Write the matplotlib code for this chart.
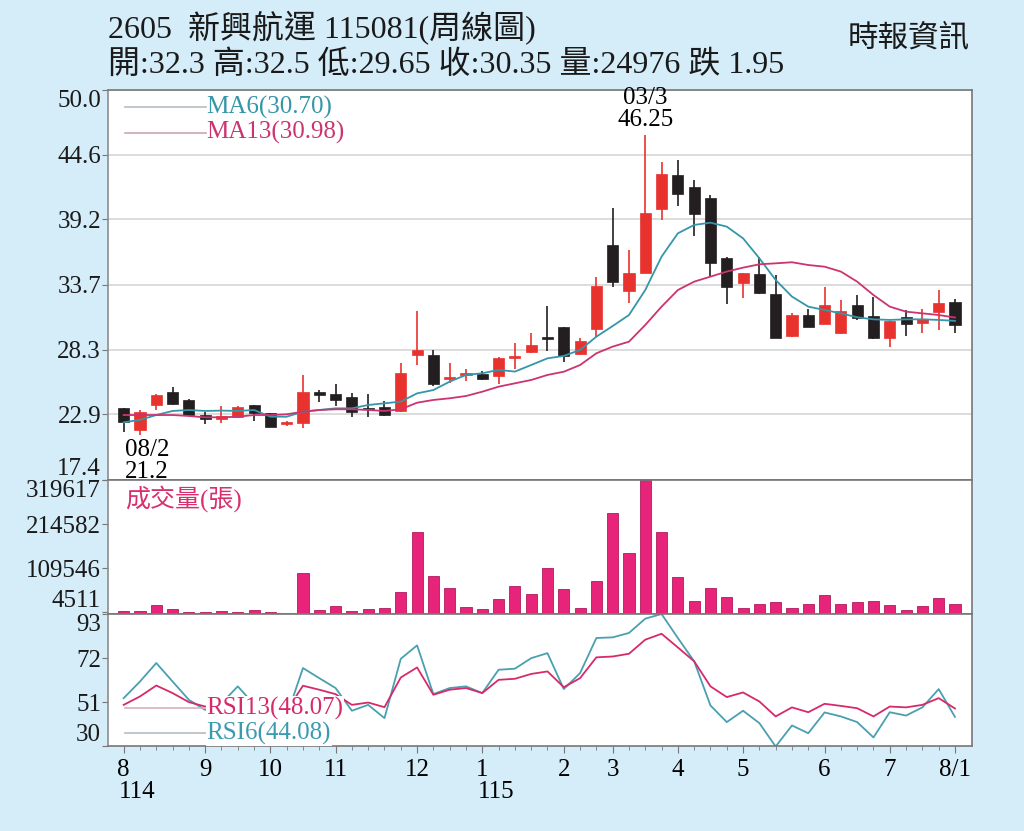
import numpy as np
import matplotlib.pyplot as plt

# weekly candles, 52 weeks
opens = [23.44, 21.58, 23.67, 24.78, 24.09, 22.83, 22.47, 22.69, 23.67, 22.97,
         22.08, 22.19, 24.73, 24.59, 24.36, 23.38, 23.53, 23.14, 27.85, 27.85,
         25.84, 26.17, 26.26, 26.09, 27.57, 28.13, 29.30, 30.16, 27.91, 30.00,
         37.04, 33.22, 34.68, 40.03, 42.90, 41.92, 41.00, 35.93, 33.84, 34.62,
         32.95, 29.44, 31.19, 30.44, 29.66, 32.03, 31.13, 29.24, 31.05, 30.50,
         31.42, 32.30]
highs = [23.44, 23.25, 24.55, 25.20, 24.17, 23.06, 23.59, 23.59, 23.67, 23.00,
         22.30, 26.18, 24.92, 25.40, 24.65, 24.56, 24.03, 27.15, 31.53, 28.27,
         27.15, 26.65, 26.53, 27.71, 28.83, 29.66, 31.95, 30.16, 29.24, 34.34,
         40.16, 36.63, 46.25, 44.00, 44.15, 42.48, 41.22, 36.07, 34.73, 36.02,
         34.54, 31.38, 31.67, 33.56, 32.45, 32.86, 32.67, 30.72, 31.61, 31.67,
         33.28, 32.50]
lows = [21.44, 21.20, 23.25, 23.70, 22.80, 22.08, 22.14, 22.58, 22.33, 21.80,
        21.95, 21.77, 23.95, 23.61, 22.69, 22.64, 22.75, 23.06, 27.01, 25.26,
        25.48, 25.68, 25.76, 25.42, 26.65, 28.04, 28.21, 27.29, 27.85, 29.38,
        33.51, 32.22, 34.68, 39.13, 40.30, 37.80, 34.45, 32.11, 32.59, 32.95,
        29.24, 29.38, 30.16, 30.44, 29.60, 30.77, 29.16, 28.54, 29.44, 29.66,
        29.94, 29.65]
closes = [22.22, 23.08, 24.51, 23.75, 22.83, 22.47, 22.75, 23.48, 23.03, 21.80,
          22.28, 24.78, 24.50, 24.09, 23.06, 23.30, 22.83, 26.37, 28.27, 25.42,
          26.03, 26.31, 25.82, 27.62, 27.76, 28.66, 29.20, 27.77, 29.04, 33.64,
          33.98, 34.73, 39.74, 42.98, 41.31, 39.61, 35.56, 33.51, 34.68, 33.01,
          29.24, 31.19, 30.16, 32.03, 31.53, 30.92, 29.24, 30.69, 30.41, 30.88,
          32.22, 30.35]

ma6 = [22.22, 22.42, 22.83, 23.17, 23.25, 23.17, 23.20, 23.17, 23.25, 22.69,
       22.69, 23.11, 23.25, 23.39, 23.39, 23.67, 23.81, 23.95, 24.64, 24.92,
       25.62, 26.18, 26.32, 26.60, 26.46, 27.01, 27.57, 27.77, 28.27, 29.38,
       30.27, 31.19, 33.28, 36.07, 38.02, 38.72, 38.91, 38.58, 37.60, 35.93,
       34.12, 32.73, 31.89, 31.61, 31.33, 31.00, 30.83, 30.78, 30.83, 30.83,
       30.78, 30.70]
ma13 = [22.83, 22.83, 22.83, 22.83, 22.75, 22.64, 22.64, 22.69, 22.83, 22.83,
        22.89, 23.11, 23.25, 23.31, 23.31, 23.25, 23.17, 23.31, 23.86, 24.09,
        24.23, 24.42, 24.78, 25.20, 25.48, 25.76, 26.18, 26.45, 27.01, 27.99,
        28.55, 28.96, 30.36, 31.89, 33.28, 33.98, 34.40, 34.82, 35.15, 35.43,
        35.51, 35.60, 35.37, 35.23, 34.82, 33.98, 32.86, 31.89, 31.47, 31.33,
        31.19, 30.98]

volume = [6400, 6400, 20800, 12000, 5600, 4511, 8000, 5200, 9600, 5600,
          0, 98500, 8800, 19200, 7200, 11200, 15200, 52900, 196200, 91300,
          62500, 16800, 12000, 36000, 65700, 48900, 110500, 59300, 15200, 77700,
          240300, 145000, 319617, 196200, 88900, 30400, 61700, 40000, 13600, 24800,
          28000, 15200, 23200, 45700, 24800, 28000, 31200, 20800, 10400, 18400,
          38400, 24976]

rsi6 = [53.0, 60.9, 69.7, 60.9, 52.2, 47.4, 50.5, 58.6, 50.0, 43.0,
        44.5, 67.3, 62.5, 57.8, 47.0, 49.8, 43.5, 71.7, 78.1, 54.9,
        57.8, 58.6, 55.4, 66.5, 67.0, 72.0, 74.4, 57.3, 64.9, 81.6,
        81.9, 84.0, 90.8, 93.0, 81.6, 70.5, 49.5, 41.6, 47.0, 41.1,
        30.0, 40.0, 36.3, 46.2, 44.3, 41.6, 34.3, 46.3, 44.7, 48.6,
        57.3, 44.08]
rsi13 = [49.8, 53.8, 59.0, 55.4, 51.1, 49.0, 49.5, 52.5, 50.0, 46.5,
         47.0, 58.9, 57.0, 54.9, 49.8, 50.9, 48.7, 62.8, 67.6, 54.6,
         57.0, 57.8, 55.4, 61.7, 62.2, 64.5, 65.7, 58.2, 62.5, 72.4,
         72.8, 74.1, 80.8, 83.6, 77.1, 70.5, 58.6, 53.5, 55.7, 51.4,
         44.3, 48.6, 46.3, 50.3, 49.3, 48.2, 44.3, 49.0, 48.6, 49.8,
         53.0, 48.07]

price_ticks = [17.4, 22.9, 28.3, 33.7, 39.2, 44.6, 50.0]
vol_ticks = [4511, 109546, 214582, 319617]
rsi_ticks = [30, 51, 72, 93]
month_pos = [0, 5, 9, 13, 18, 22, 27, 30, 34, 38, 43, 47, 51]
month_labels = ['8', '9', '10', '11', '12', '1', '2', '3', '4', '5', '6', '7', '8/1']
year_labels = {0: '114', 22: '115'}

RED = '#e8322d'
BLACK = '#231f20'
TEAL = '#3596aa'
CRIMSON = '#cc3470'
PINK = '#e8247a'
BG = '#d5ecf9'

plt.rcParams['font.family'] = ['Liberation Serif', 'Noto Sans CJK TC']


def style_axis(ax):
    for side in ['left', 'right', 'top', 'bottom']:
        ax.spines[side].set_color('#777777')
        ax.spines[side].set_linewidth(1.2)
    ax.spines['left'].set_color('#8c8c8c')
    ax.tick_params(axis='y', direction='out', length=4, color='#777777',
                   labelsize=18, labelcolor='#1a1a1a', pad=1)
    ax.tick_params(axis='x', bottom=False, labelbottom=False)


def main():
    fig = plt.figure(figsize=(10.24, 8.31), dpi=100, facecolor=BG)
    ax1 = fig.add_axes([0.1055, 0.4224, 0.8438, 0.4693])
    ax2 = fig.add_axes([0.1055, 0.2611, 0.8438, 0.1613])
    ax3 = fig.add_axes([0.1055, 0.1017, 0.8438, 0.1594])

    x = np.arange(len(closes))
    o = np.array(opens)
    c = np.array(closes)
    colors = [RED if cc >= oo else BLACK for oo, cc in zip(o, c)]

    # price panel
    ax1.vlines(x, lows, highs, colors=colors, lw=1.2, zorder=2)
    ax1.bar(x, np.maximum(np.abs(c - o), 0.15), bottom=np.minimum(o, c), width=0.68,
            color=colors, edgecolor=colors, lw=0.5, zorder=3)
    ax1.plot(x, ma6, color=TEAL, lw=1.3, zorder=4)
    ax1.plot(x, ma13, color=CRIMSON, lw=1.3, zorder=4)
    ax1.set_xlim(-0.96, 52.05)
    ax1.set_ylim(17.4, 50.0)
    ax1.set_yticks(price_ticks)
    ax1.set_yticklabels(['%.1f' % t for t in price_ticks])
    ax1.grid(axis='y', color='#d6d6d6', lw=1.2)
    ax1.set_axisbelow(True)
    style_axis(ax1)

    ax1.plot([0.02, 0.113], [0.956, 0.956], transform=ax1.transAxes, color='#b5bcc0', lw=1.2)
    ax1.plot([0.02, 0.113], [0.890, 0.890], transform=ax1.transAxes, color='#c9a6b6', lw=1.2)
    ax1.text(0.114, 0.956, 'MA6(%.2f)' % ma6[-1], transform=ax1.transAxes,
             color=TEAL, fontsize=18, va='center')
    ax1.text(0.114, 0.890, 'MA13(%.2f)' % ma13[-1], transform=ax1.transAxes,
             color=CRIMSON, fontsize=18, va='center')

    top = int(np.argmax(highs))
    low = int(np.argmin(lows))
    ax1.annotate('03/3\n%.2f' % highs[top], xy=(top, highs[top]), xytext=(0, 3),
                 textcoords='offset points', ha='center', va='bottom',
                 fontsize=18, linespacing=1.0)
    ax1.annotate('08/2\n%.1f' % lows[low], xy=(low, lows[low]), xytext=(5, -3),
                 textcoords='offset points', ha='center', va='top',
                 fontsize=18, linespacing=1.0, annotation_clip=False, zorder=10)

    # volume panel
    ax2.bar(x, volume, width=0.68, color=PINK, edgecolor='#b01c5c', lw=0.6)
    ax2.set_xlim(-0.96, 52.05)
    ax2.set_ylim(0, vol_ticks[-1])
    ax2.set_yticks(vol_ticks)
    ax2.set_yticklabels([str(v) for v in vol_ticks])
    style_axis(ax2)
    ax2.text(0.02, 0.86, '成交量(張)', transform=ax2.transAxes, color='#d8306e',
             fontsize=18, va='center')

    # RSI panel
    ax3.plot(x, rsi6, color='#4a9fb0', lw=1.3)
    ax3.plot(x, rsi13, color='#d62a6a', lw=1.3)
    ax3.set_xlim(-0.96, 52.05)
    ax3.set_ylim(rsi_ticks[0], rsi_ticks[-1])
    ax3.set_yticks(rsi_ticks)
    ax3.set_yticklabels([str(v) for v in rsi_ticks])
    style_axis(ax3)
    ax3.plot([0.02, 0.113], [0.29, 0.29], transform=ax3.transAxes, color='#d8b0c0', lw=1.2)
    ax3.plot([0.02, 0.113], [0.10, 0.10], transform=ax3.transAxes, color='#b5bcc0', lw=1.2)
    ax3.text(0.114, 0.29, 'RSI13(%.2f)' % rsi13[-1], transform=ax3.transAxes,
             color='#d62a6a', fontsize=18, va='center', zorder=5,
             bbox=dict(facecolor='white', edgecolor='none', pad=0.5))
    ax3.text(0.114, 0.10, 'RSI6(%.2f)' % rsi6[-1], transform=ax3.transAxes,
             color='#3a9bb0', fontsize=18, va='center', zorder=5,
             bbox=dict(facecolor='white', edgecolor='none', pad=0.5))

    ax3.tick_params(axis='x', bottom=True, labelbottom=True, direction='out',
                    length=5, color='#777777', labelsize=18, pad=4)
    ax3.tick_params(axis='x', which='minor', length=3, color='#777777')
    ax3.set_xticks(month_pos)
    ax3.set_xticklabels(month_labels)
    ax3.set_xticks(x, minor=True)
    for pos, lab in year_labels.items():
        ax3.text(pos - 0.3, -0.34, lab, transform=ax3.get_xaxis_transform(),
                 fontsize=18, ha='left', va='center')

    for ax in [ax1, ax2, ax3]:
        labels = ax.get_yticklabels()
        labels[0].set_va('bottom')
        labels[-1].set_va('top')

    # header
    fig.text(0.1055, 0.966, '2605  新興航運 115081(周線圖)', fontsize=23,
             ha='left', va='center', color='#1a1a1a')
    fig.text(0.1055, 0.922, '開:32.3 高:32.5 低:29.65 收:30.35 量:24976 跌 1.95',
             fontsize=23, ha='left', va='center', color='#1a1a1a')
    fig.text(0.947, 0.952, '時報資訊', fontsize=22, ha='right', va='center',
             color='#1a1a1a')

    fig.savefig('out.png', dpi=100, facecolor=BG)


if __name__ == "__main__":
    main()
